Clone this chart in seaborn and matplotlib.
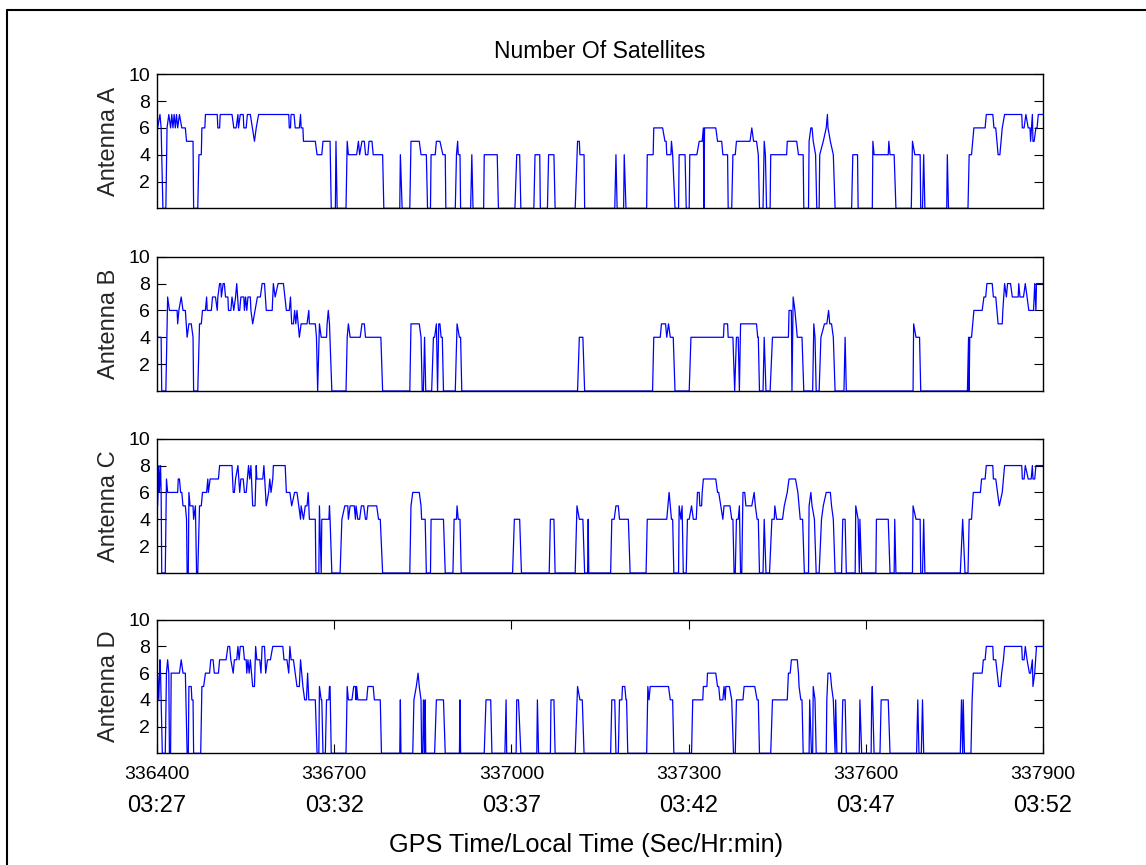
import matplotlib
matplotlib.use("Agg")
import matplotlib.pyplot as plt
from matplotlib.lines import Line2D
from matplotlib.transforms import blended_transform_factory
import pandas as pd
import seaborn as sns

# GPS second at which the record starts; series times are seconds after it
GPS_START = 336400

# (seconds after start, number of satellites) vertices for each antenna
antenna_a = [(1,6),(5,7),(7,6),(10,0),(15,0),(17,6),(20,7),(23,6),(25,7),(27,6),(29,7),(31,6),(33,7),(35,6),(38,7),(42,6),(48,6),(50,5),(61,5),(62,0),(69,0),(71,4),(75,4),(76,6),(81,6),(82,7),(102,7),(103,6),(106,6),(107,7),(127,7),(130,6),(134,6),(137,7),(138,6),(141,7),(146,7),(147,6),(151,6),(153,7),(158,7),(165,5),(168,6),(172,7),(223,7),(224,6),(226,6),(227,7),(232,7),(234,6),(241,6),(243,7),(244,6),(247,6),(248,5),(268,5),(271,4),(279,4),(281,5),(293,5),(295,0),(302,0),(303,5),(305,0),(320,0),(322,5),(324,4),(338,4),(341,5),(343,4),(347,5),(351,5),(353,4),(357,4),(359,5),(364,5),(366,4),(382,4),(384,0),(411,0),(412,4),(415,0),(428,0),(430,5),(444,5),(447,4),(456,4),(458,0),(463,0),(464,4),(471,4),(473,5),(479,5),(484,4),(488,4),(489,0),(505,0),(507,4),(509,5),(510,4),(513,4),(514,0),(531,0),(533,4),(535,0),(553,0),(554,4),(576,4),(578,0),(606,0),(609,4),(614,4),(616,0),(638,0),(640,4),(648,4),(649,0),(661,0),(663,4),(672,4),(674,0),(708,0),(712,5),(715,5),(716,4),(723,4),(724,0),(775,0),(777,4),(779,0),(790,0),(791,4),(794,0),(829,0),(830,4),(840,4),(841,6),(856,6),(860,5),(862,5),(863,4),(870,4),(871,5),(873,4),(877,0),(883,0),(884,4),(894,4),(896,0),(901,0),(902,4),(914,4),(918,5),(923,5),(925,6),(926,0),(927,6),(946,6),(949,5),(956,5),(958,4),(966,4),(967,0),(973,0),(975,4),(979,4),(981,5),(1004,5),(1007,6),(1010,5),(1015,5),(1018,4),(1020,0),(1026,0),(1028,5),(1030,4),(1032,0),(1038,0),(1039,4),(1066,4),(1067,5),(1083,5),(1086,4),(1094,4),(1095,0),(1103,0),(1104,5),(1107,6),(1109,6),(1111,5),(1115,4),(1117,0),(1121,0),(1122,4),(1128,5),(1133,6),(1135,7),(1136,6),(1140,5),(1145,4),(1148,0),(1176,0),(1178,4),(1186,4),(1187,0),(1211,0),(1212,5),(1214,4),(1238,4),(1239,5),(1241,4),(1248,4),(1251,0),(1277,0),(1279,5),(1283,4),(1292,4),(1293,0),(1296,0),(1298,4),(1300,0),(1337,0),(1338,4),(1340,0),(1373,0),(1375,4),(1379,4),(1383,6),(1402,6),(1404,7),(1415,7),(1417,6),(1420,6),(1424,4),(1427,4),(1431,6),(1435,7),(1464,7),(1465,6),(1468,6),(1471,7),(1475,6),(1478,6),(1479,5),(1482,7),(1483,5),(1485,5),(1488,6),(1490,6),(1492,7),(1500,7)]

antenna_b = [(1,4),(7,4),(8,0),(15,0),(18,7),(21,6),(34,6),(35,5),(37,6),(41,7),(44,6),(48,6),(51,4),(54,5),(58,5),(61,4),(62,0),(69,0),(72,5),(75,5),(77,6),(82,6),(84,7),(85,6),(92,6),(94,7),(99,7),(102,6),(103,7),(106,8),(108,8),(109,7),(112,8),(114,8),(116,7),(120,7),(121,6),(125,6),(127,7),(130,6),(133,7),(135,8),(138,6),(140,6),(142,7),(147,7),(148,6),(150,7),(152,6),(154,7),(158,7),(159,6),(162,5),(166,6),(170,7),(175,7),(178,8),(182,8),(185,6),(195,6),(197,8),(200,7),(205,8),(214,8),(219,6),(224,6),(226,7),(228,5),(231,5),(233,6),(235,5),(237,6),(239,5),(241,4),(244,5),(254,5),(257,6),(258,5),(268,5),(270,4),(272,0),(275,5),(278,4),(287,4),(288,5),(290,6),(292,5),(296,0),(320,0),(322,4),(324,5),(327,4),(344,4),(347,5),(351,5),(353,4),(379,4),(382,0),(428,0),(430,5),(444,5),(447,4),(449,0),(451,0),(453,4),(455,0),(465,0),(468,4),(470,4),(473,5),(475,0),(477,5),(479,5),(481,4),(483,4),(485,0),(505,0),(508,5),(512,4),(514,4),(516,0),(712,0),(715,4),(721,4),(724,0),(839,0),(841,4),(852,4),(854,5),(861,5),(863,4),(866,5),(869,4),(874,4),(877,0),(901,0),(904,4),(959,4),(960,5),(966,5),(967,4),(975,4),(978,0),(981,4),(984,4),(986,0),(988,5),(1015,5),(1017,4),(1018,4),(1020,0),(1026,0),(1028,4),(1031,0),(1038,0),(1042,4),(1069,4),(1070,6),(1074,6),(1075,0),(1077,7),(1080,6),(1084,4),(1092,4),(1095,0),(1110,0),(1112,5),(1114,4),(1116,0),(1121,0),(1124,4),(1130,5),(1134,5),(1137,6),(1139,5),(1142,5),(1145,4),(1148,0),(1163,0),(1165,4),(1167,0),(1280,0),(1281,5),(1285,4),(1291,4),(1293,0),(1372,0),(1374,4),(1375,0),(1376,4),(1379,4),(1383,6),(1397,6),(1400,7),(1403,7),(1405,8),(1414,8),(1416,7),(1420,7),(1424,5),(1431,5),(1432,6),(1435,8),(1438,7),(1440,8),(1445,8),(1448,7),(1458,7),(1459,8),(1461,7),(1467,7),(1470,8),(1473,7),(1476,6),(1484,6),(1486,8),(1488,6),(1489,8),(1500,8)]

antenna_c = [(1,5),(3,8),(4,6),(6,8),(7,6),(8,0),(14,0),(16,7),(18,6),(35,6),(36,7),(38,7),(40,6),(42,6),(44,5),(48,5),(50,4),(51,0),(53,0),(54,6),(56,5),(61,5),(62,4),(65,5),(67,0),(69,0),(72,5),(75,5),(77,6),(84,6),(86,7),(87,6),(90,7),(104,7),(106,8),(127,8),(129,6),(131,6),(133,7),(137,8),(140,6),(142,7),(146,7),(148,6),(151,6),(153,7),(155,8),(157,7),(159,8),(162,5),(166,5),(168,8),(169,7),(179,7),(181,8),(185,5),(189,6),(191,7),(193,6),(196,7),(197,8),(217,8),(219,6),(225,6),(228,5),(233,6),(237,6),(240,5),(243,4),(244,5),(248,4),(251,5),(254,5),(256,6),(258,4),(268,4),(269,0),(274,0),(275,5),(278,0),(279,4),(291,4),(292,5),(293,4),(296,0),(310,0),(313,4),(318,5),(323,5),(324,4),(327,5),(334,5),(336,4),(337,5),(340,4),(343,4),(346,5),(350,5),(353,4),(355,4),(357,5),(372,5),(375,4),(378,4),(382,0),(428,0),(430,5),(433,6),(444,6),(447,5),(448,4),(454,4),(456,0),(463,0),(464,4),(485,4),(488,0),(501,0),(503,4),(507,4),(508,5),(510,4),(513,4),(515,0),(602,0),(605,4),(614,4),(617,0),(664,0),(666,4),(672,4),(674,0),(708,0),(711,5),(715,4),(721,4),(724,0),(729,0),(730,4),(731,0),(768,0),(770,4),(774,4),(777,5),(781,5),(783,4),(798,4),(801,0),(828,0),(830,4),(863,4),(867,6),(871,4),(873,4),(875,0),(883,0),(884,5),(887,4),(889,5),(891,0),(896,0),(898,4),(901,4),(905,5),(908,4),(913,4),(915,6),(918,6),(919,5),(922,5),(923,6),(925,7),(946,7),(949,6),(951,6),(958,4),(960,5),(970,5),(973,4),(975,4),(977,0),(979,0),(981,4),(984,4),(986,5),(988,0),(990,0),(992,6),(995,6),(997,5),(1007,5),(1011,6),(1013,5),(1016,4),(1018,4),(1020,0),(1026,0),(1028,4),(1031,0),(1037,0),(1041,4),(1045,4),(1046,5),(1049,4),(1059,4),(1062,5),(1067,6),(1070,7),(1081,7),(1085,6),(1087,5),(1089,4),(1093,4),(1096,0),(1103,0),(1104,5),(1107,6),(1109,5),(1113,4),(1116,0),(1121,0),(1125,4),(1128,5),(1133,6),(1140,6),(1142,5),(1145,4),(1148,0),(1159,0),(1161,4),(1165,4),(1167,0),(1182,0),(1183,5),(1187,4),(1189,0),(1190,4),(1193,0),(1217,0),(1218,4),(1238,4),(1241,0),(1248,0),(1249,4),(1251,0),(1279,0),(1280,5),(1285,4),(1292,4),(1293,0),(1296,0),(1298,4),(1300,0),(1360,0),(1364,4),(1368,0),(1373,0),(1375,4),(1379,4),(1382,6),(1394,6),(1396,7),(1402,7),(1404,8),(1415,8),(1416,7),(1420,7),(1426,5),(1431,6),(1435,8),(1464,8),(1465,7),(1468,7),(1470,8),(1475,7),(1480,7),(1482,8),(1483,7),(1486,7),(1488,8),(1500,8)]

antenna_d = [(1,6),(3,4),(5,7),(6,6),(9,0),(14,0),(16,6),(18,7),(20,6),(21,0),(23,0),(24,6),(38,6),(41,7),(44,6),(48,6),(51,0),(53,0),(54,5),(58,5),(59,4),(61,4),(62,0),(74,0),(76,5),(79,5),(82,6),(89,6),(91,7),(95,7),(97,6),(104,6),(106,7),(117,7),(120,8),(123,8),(125,7),(129,6),(131,7),(135,7),(137,8),(139,7),(141,8),(146,8),(148,7),(151,7),(152,6),(154,7),(156,6),(158,7),(160,6),(162,5),(165,5),(167,8),(169,7),(174,7),(176,6),(178,8),(182,8),(184,6),(187,7),(192,7),(196,8),(213,8),(215,7),(220,7),(223,6),(225,8),(227,7),(231,7),(234,6),(237,5),(241,5),(243,7),(245,6),(247,5),(250,4),(253,4),(255,6),(257,4),(268,4),(271,0),(274,0),(275,5),(278,4),(279,4),(281,0),(285,0),(287,4),(291,4),(292,5),(293,5),(295,0),(320,0),(322,5),(324,4),(330,4),(333,5),(336,5),(337,4),(338,5),(340,4),(355,4),(357,5),(366,5),(368,4),(378,4),(380,0),(411,0),(412,4),(413,0),(433,0),(435,4),(439,5),(442,6),(444,5),(447,4),(448,0),(450,0),(451,4),(453,0),(454,4),(455,0),(470,0),(473,4),(485,4),(488,0),(512,0),(513,4),(514,0),(554,0),(557,4),(565,4),(567,0),(589,0),(591,4),(592,0),(608,0),(609,4),(612,4),(616,0),(643,0),(644,4),(646,0),(666,0),(667,4),(672,4),(674,0),(708,0),(712,5),(716,4),(720,4),(723,0),(768,0),(770,4),(775,4),(777,0),(781,0),(783,4),(787,4),(788,5),(792,5),(794,4),(795,4),(797,0),(829,0),(831,5),(833,4),(835,5),(866,5),(869,4),(873,4),(875,0),(905,0),(907,4),(924,4),(925,5),(931,5),(932,6),(946,6),(949,5),(951,5),(953,4),(958,4),(960,5),(962,4),(963,5),(969,5),(973,4),(976,0),(979,0),(981,4),(992,4),(994,5),(1012,5),(1016,4),(1018,4),(1020,0),(1039,0),(1042,4),(1067,4),(1069,6),(1072,6),(1074,7),(1084,7),(1086,6),(1087,5),(1090,4),(1092,4),(1094,0),(1104,0),(1105,4),(1108,0),(1110,0),(1111,5),(1114,4),(1116,0),(1133,0),(1134,4),(1136,6),(1140,6),(1142,5),(1145,4),(1148,0),(1149,4),(1151,0),(1159,0),(1161,4),(1165,4),(1167,0),(1189,0),(1190,4),(1193,0),(1209,0),(1210,4),(1211,5),(1214,0),(1224,0),(1226,4),(1238,4),(1241,0),(1286,0),(1288,4),(1290,0),(1294,0),(1296,4),(1298,0),(1360,0),(1362,4),(1364,0),(1365,4),(1367,0),(1378,0),(1380,4),(1382,6),(1397,6),(1399,7),(1402,7),(1404,8),(1415,8),(1416,7),(1420,7),(1425,5),(1428,5),(1430,6),(1433,7),(1435,8),(1464,8),(1465,7),(1468,7),(1470,8),(1473,7),(1477,6),(1479,6),(1482,7),(1483,5),(1486,6),(1489,8),(1500,8)]

panel_labels = ["Antenna A", "Antenna B", "Antenna C", "Antenna D"]
gps_ticks = [336400, 336700, 337000, 337300, 337600, 337900]
local_times = ["03:27", "03:32", "03:37", "03:42", "03:47", "03:52"]
y_ticks = [2, 4, 6, 8, 10]

sns.set_theme(style="white")
plt.rcParams["font.family"] = ["Liberation Sans", "DejaVu Sans"]
plt.rcParams["text.color"] = "black"
plt.rcParams["xtick.color"] = "black"
plt.rcParams["ytick.color"] = "black"

W, H = 1146, 865
fig = plt.figure(figsize=(W / 100, H / 100), dpi=100)

x_left, x_right = 157, 1043
panel_rows = [(74.3, 208.3), (256.7, 391.0), (438.7, 573.0), (619.7, 753.3)]

axes = []
for i, (series, name, (top, bottom)) in enumerate(
        zip([antenna_a, antenna_b, antenna_c, antenna_d], panel_labels, panel_rows)):
    ax = fig.add_axes([x_left / W, 1 - bottom / H, (x_right - x_left) / W, (bottom - top) / H])
    df = pd.DataFrame(series, columns=["t", "sats"])
    df["t"] = df["t"] + GPS_START
    sns.lineplot(data=df, x="t", y="sats", ax=ax, estimator=None, sort=False,
                 color="#0000ff", linewidth=0.9)
    ax.set_xlim(gps_ticks[0], gps_ticks[-1])
    ax.set_ylim(0, 10)
    ax.set_yticks(y_ticks)
    ax.tick_params(axis="y", direction="in", length=6.5, width=0.8,
                   left=True, right=True, labelsize=14, pad=5)
    if i == 3:
        ax.set_xticks(gps_ticks)
        ax.set_xticklabels([str(t) for t in gps_ticks])
        ax.tick_params(axis="x", direction="in", length=6.5, width=0.8,
                       bottom=True, top=True, labelsize=14, pad=9)
    else:
        ax.set_xticks([])
    ax.set_xlabel("")
    ax.set_ylabel(name, fontsize=17)
    ax.yaxis.set_label_coords(-0.042, 0.5)
    for sp in ax.spines.values():
        sp.set_color("black")
        sp.set_linewidth(1.0)
    ax.grid(False)
    axes.append(ax)

axes[0].set_title("Number Of Satellites", fontsize=16.5, pad=11.7)

# second row of labels: local clock time under each GPS tick
ax_d = axes[-1]
trans = blended_transform_factory(ax_d.transData, fig.transFigure)
for t, label in zip(gps_ticks, local_times):
    ax_d.text(t, 1 - 806 / H, label, transform=trans, ha="center", va="center", fontsize=17)

fig.text(586 / W, 1 - 845 / H, "GPS Time/Local Time (Sec/Hr:min)",
         ha="center", va="center", fontsize=18.2)

# outer frame on the left and top edges
fig.add_artist(Line2D([7 / W, 7 / W], [0, 1 - 10 / H], color="black", linewidth=1.5,
                      transform=fig.transFigure))
fig.add_artist(Line2D([7 / W, 1], [1 - 10 / H, 1 - 10 / H], color="black", linewidth=1.5,
                      transform=fig.transFigure))

fig.savefig("out.png", dpi=100)
